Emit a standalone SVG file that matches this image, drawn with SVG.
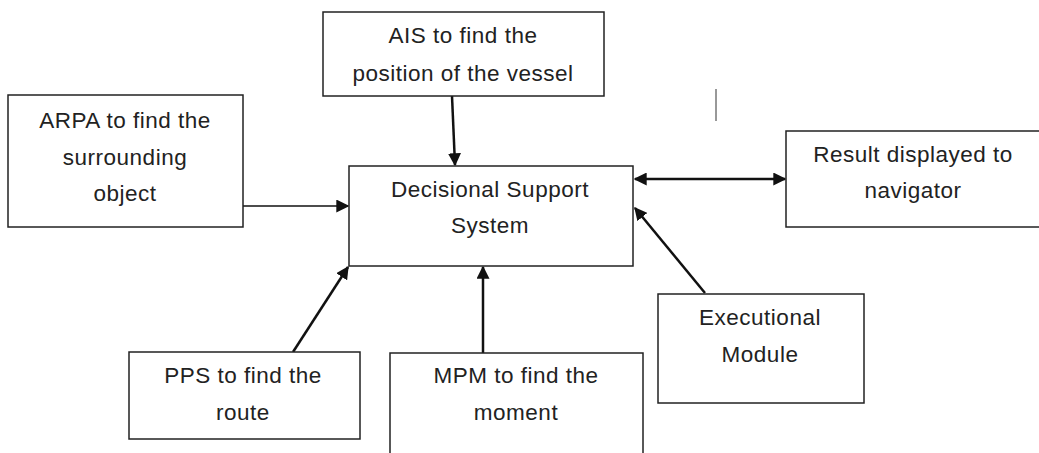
<svg xmlns="http://www.w3.org/2000/svg" width="1039" height="453" viewBox="0 0 1039 453">
<style>
.box{fill:#fff;stroke:#222;stroke-width:1.5}
.t{font-family:"Liberation Sans",Arial,sans-serif;font-size:22.5px;fill:#222;text-anchor:middle;letter-spacing:0.5px}
.c{stroke:#111;fill:none}
</style>
<defs>
<marker id="ahs" viewBox="0 0 10 10" refX="9" refY="5" markerWidth="13" markerHeight="13" markerUnits="userSpaceOnUse" orient="auto-start-reverse">
<path d="M0,0 L10,5 L0,10 z" fill="#111"/>
</marker>
</defs>
<rect width="1039" height="453" fill="#fff"/>
<g id="connectors">
<line class="c" x1="243" y1="206" x2="348" y2="206" stroke-width="1.5" marker-end="url(#ahs)"/>
<line class="c" x1="452" y1="96" x2="455" y2="165" stroke-width="2.5" marker-end="url(#ahs)"/>
<line class="c" x1="635" y1="179" x2="785" y2="179" stroke-width="2.5" marker-start="url(#ahs)" marker-end="url(#ahs)"/>
<line class="c" x1="705" y1="293" x2="635" y2="208" stroke-width="2.5" marker-end="url(#ahs)"/>
<line class="c" x1="483" y1="353" x2="483" y2="267" stroke-width="2.5" marker-end="url(#ahs)"/>
<line class="c" x1="293" y1="352" x2="348" y2="267" stroke-width="2.5" marker-end="url(#ahs)"/>
<line x1="716" y1="89" x2="716" y2="121" stroke="#333" stroke-width="1"/>
</g>
<g id="arpa">
<rect class="box" x="8" y="95" width="235" height="132"/>
<text class="t" x="125" y="128">ARPA to find the</text>
<text class="t" x="125" y="165">surrounding</text>
<text class="t" x="125" y="201">object</text>
</g>
<g id="ais">
<rect class="box" x="323" y="12" width="281" height="84"/>
<text class="t" x="463" y="43">AIS to find the</text>
<text class="t" x="463" y="81">position of the vessel</text>
</g>
<g id="dss">
<rect class="box" x="349" y="166" width="284" height="100"/>
<text class="t" x="490" y="197">Decisional Support</text>
<text class="t" x="490" y="233">System</text>
</g>
<g id="result">
<rect class="box" x="786" y="131" width="260" height="96"/>
<text class="t" x="913" y="162">Result displayed to</text>
<text class="t" x="913" y="198">navigator</text>
</g>
<g id="executional">
<rect class="box" x="658" y="294" width="206" height="109"/>
<text class="t" x="760" y="325">Executional</text>
<text class="t" x="760" y="362">Module</text>
</g>
<g id="pps">
<rect class="box" x="129" y="352" width="231" height="87"/>
<text class="t" x="243" y="383">PPS to find the</text>
<text class="t" x="243" y="420">route</text>
</g>
<g id="mpm">
<rect class="box" x="390" y="353" width="253" height="110"/>
<text class="t" x="516" y="383">MPM to find the</text>
<text class="t" x="516" y="420">moment</text>
</g>
</svg>
